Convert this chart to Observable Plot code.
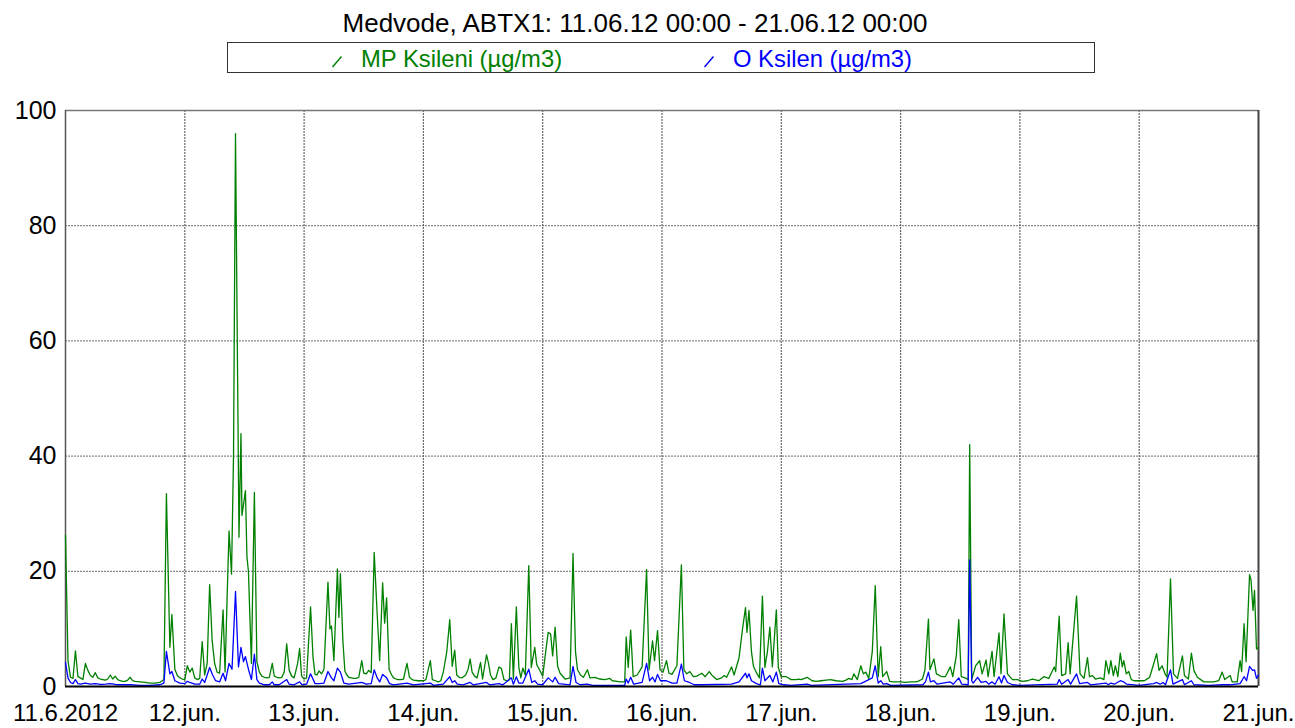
<!DOCTYPE html>
<html>
<head>
<meta charset="utf-8">
<script src="https://cdn.jsdelivr.net/npm/d3@7"></script>
<script src="https://cdn.jsdelivr.net/npm/@observablehq/plot@0.6"></script>
<style>
  html, body { margin: 0; padding: 0; background: #fff; }
  body { width: 1295px; height: 728px; position: relative; overflow: hidden; font-family: "Liberation Sans", Arial, sans-serif; }
  #title { position: absolute; left: 0; width: 1270px; top: 8px; text-align: center; font-size: 26px; color: #000; white-space: nowrap; }
  #legend { position: absolute; left: 227px; top: 42px; width: 866px; height: 29px; border: 1px solid #333; box-sizing: content-box; }
  .item { position: absolute; top: 2px; font-size: 23.8px; white-space: nowrap; line-height: 27px; }
  .item svg { position: absolute; left: -30px; top: 10px; }
  #chart { position: absolute; left: 0; top: 80px; }
</style>
</head>
<body>
<div id="title"></div>
<div id="legend"></div>
<div id="chart"></div>
<script>
const titleText = "Medvode, ABTX1: 11.06.12 00:00 - 21.06.12 00:00";
const seriesNames = ["MP Ksileni (µg/m3)", "O Ksilen (µg/m3)"];
const seriesColors = ["#008000", "#0000ff"];
const dayHours = [0, 24, 48, 72, 96, 120, 144, 168, 192, 216, 240];
const dayLabels = ["11.6.2012", "12.jun.", "13.jun.", "14.jun.", "15.jun.", "16.jun.", "17.jun.", "18.jun.", "19.jun.", "20.jun.", "21.jun."];
const yTicks = [0, 20, 40, 60, 80, 100];

// [hour since 11.06.12 00:00, value]
const mpKsileni = [
[0,26.2],[0.5,4.5],[1,1.6],[1.5,1.4],[2,6.2],[2.5,1.7],[3,1.5],[3.5,1.2],[4,4.0],[4.5,2.8],[5,1.9],[5.5,1.6],[6,2.4],[6.5,1.5],[7,1.3],[7.5,1.2],[8,1.1],[8.5,1.3],[9,2.0],[9.5,1.3],[10,1.8],[10.5,1.2],[11,1.0],[11.5,0.9],[12,0.9],[12.5,1.1],[13,1.6],[13.5,1.0],[14,0.9],[15,0.8],[16,0.7],[17,0.6],[18,0.6],[19,0.7],[19.8,1.2],
[20.3,33.5],[21,6.8],[21.4,12.5],[22,3],[22.5,1.9],[23,1.5],[23.5,1.3],[24,1.2],[24.5,3.6],[25,2.5],[25.5,3.2],[26,1.5],[26.5,1.2],[27,1.4],[27.5,7.8],[28,2.0],[28.5,4],[29,17.7],[29.5,8],[30,4],[30.5,2.5],[31,2.3],[31.7,13.3],[32.1,2.5],[32.5,15],[32.9,27],[33.4,19.5],[33.8,40],
[34.2,96],[34.9,25.9],[35.3,43.9],[35.5,29.7],[36.2,34],[36.5,22.5],[36.8,20],[37.4,4],[38,33.7],[38.5,4.3],[39,2.5],[39.5,1.8],[40,1.6],[40.5,1.5],[41,1.6],[41.6,4],[42,1.8],[42.5,1.6],[43,1.5],[43.5,1.6],[44,2.5],[44.5,7.4],[45,2.8],[45.5,1.8],[46,1.5],[46.7,4],[47.1,6.6],[47.5,1.8],[48,1.3],[48.5,1.5],
[49.3,13.8],[49.8,5],[50.2,2.1],[50.6,2.0],[51,2.7],[51.5,2.2],[52,3],[52.8,18.1],[53.2,10],[53.5,10.5],[54,4.5],[54.7,20.4],[55,12],[55.3,19.6],[55.8,8],[56.2,2.7],[56.6,2],[57,1.6],[57.5,1.5],[58,1.4],[58.5,1.4],[59,1.6],[59.6,4.5],[60,2.3],[60.5,2.2],[61,2.8],[61.5,2.4],
[62.1,23.3],[62.7,12.6],[63.2,4.5],[63.8,18],[64.2,11],[64.6,15.4],[65.1,3],[65.6,2],[66,1.5],[66.5,1.3],[67,1.2],[67.5,1.2],[68,1.3],[68.7,4],[69.2,1.6],[69.6,1.3],[70,1.1],[71,1.0],[72,1.0],[72.5,1.2],[73.4,4.5],[73.8,1.2],[74.4,1.0],[75,0.8],[75.5,1.0],[76,2.5],[76.7,6],
[77.3,11.6],[77.8,3.5],[78.3,6.3],[78.7,2],[79.2,1.6],[79.8,1.5],[80.5,2],[81,3],[81.4,4.8],[81.8,2.5],[82.3,1.8],[82.8,1.5],[83.5,4.2],[83.9,1.3],[84.7,5.5],[85.1,4],[85.5,2],[86,1.2],[86.6,1.5],[87.2,3.4],[87.7,3.1],[88.2,1.2],[88.8,1.0],[89.3,1.2],
[89.7,10.9],[90.1,1.3],[90.7,13.8],[91.2,3.3],[91.6,1.5],[92,3.2],[92.5,2],[93.2,21],[93.7,3.3],[94.4,6.8],[94.8,3.8],[95.3,3],[96,1.8],[96.6,6],[97.1,9.4],[97.6,9.1],[98,5.3],[98.5,10.3],[99,3.5],[99.5,2.3],[100.5,1.3],[101.5,1.5],
[102.1,23.1],[102.6,6],[103,2.9],[103.6,2],[104.2,1.6],[105,2.9],[105.5,1.5],[106.5,1.6],[107.5,1.3],[108.5,1.2],[109.5,1.4],[110,1.0],[111,0.9],[111.5,0.8],[112.5,0.8],
[112.8,8.6],[113.2,3.3],[113.7,9.8],[114.2,1.7],[115,2],[116,3.4],[116.9,20.3],[117.4,2.9],[118.1,7.9],[118.5,4.5],[119.1,9.7],[119.6,2.9],[120.2,2.5],[120.9,4.5],[121.4,2.3],[122,2.1],[123,3.6],
[123.9,21.1],[124.4,2.9],[125,2.2],[125.6,2.6],[126.3,1.7],[127,1.8],[128,2.3],[128.7,1.7],[129.5,2.6],[130,2],[131,1.2],[132,1.5],[132.5,1.9],[133,1.6],[134,3.4],[134.5,2],[135.5,5],[136.2,10],
[136.8,13.7],[137.1,9.4],[137.5,13.2],[138,6],[138.4,3.5],[139,2.4],[139.6,1.5],[140.2,15.7],[140.7,3.3],[141.2,6],[141.7,10.3],[142.2,3.4],[143,13.3],[143.4,3.3],[144,1.7],[145,1.7],[146,1.2],[147,1.2],[147.5,1.3],[148,1.2],
[149.2,1.6],[150.2,1.0],[151,0.9],[152,1.0],[153,1.1],[153.9,1.2],[155,1.0],[156.3,0.9],[157,1.1],[157.6,1.4],[158.2,1.2],[158.6,2.2],[159.3,1.2],[160,3.6],[160.5,2.2],[161,2.5],[161.6,1.4],[162.3,6],
[162.9,17.5],[163.5,1.7],[164,6.9],[164.4,1.7],[165.2,2.6],[165.8,0.9],[166.5,0.8],[167,0.8],[168,0.8],[169,0.7],[170,0.8],[171,0.8],[171.5,0.9],[172.4,1.3],[172.9,2.9],
[173.6,11.7],[173.9,2.9],[174.7,4.8],[175.2,2.2],[176.3,1.7],[177,1.7],[178,3.4],[178.5,1.7],[179.2,5.3],[179.7,11.6],[180.2,1.7],[181.2,1.4],[181.6,1.2],
[181.9,42],[182.3,1.2],[183.1,3.6],[183.9,4.5],[184.4,2.2],[185.2,4.6],[185.6,1.7],[186.4,6.1],[186.8,1.7],[187.8,9.3],[188.2,2.2],[188.8,12.6],[189.5,2.2],[190.5,1.2],[191.5,1.2],[192.5,0.9],[193.5,1.0],[194.5,1.3],[195.8,1.0],[196.8,1.7],[197.8,1.4],
[198.9,3.4],[199.2,2.6],[199.9,12.2],[200.4,1.9],[201.2,2.2],[201.7,7.6],[202.1,2.2],[203.4,15.7],[204.1,2.2],[204.9,1.4],[205.6,5],[206,1.7],[206.6,1.9],[207.2,1.3],[208.2,1.5],[208.9,1.2],
[209.3,4.5],[209.9,2.2],[210.3,4.5],[210.8,1.9],[211.2,3.6],[211.7,1.7],[212.2,5.8],[212.6,3.4],[212.9,4.5],[213.4,2.2],[213.9,2.6],[214.4,1.2],[215,1.0],[216,1.0],[217,1.0],[217.4,1.2],[218.1,1.6],
[218.9,3.9],[219.5,5.7],[220,2.8],[220.6,3.6],[221.2,2.2],[221.6,1.6],[222.3,18.7],[222.9,2.2],[223.7,1.4],[224.7,5.3],[225.1,1.9],[225.9,1.3],[226.5,5.8],[227,2.8],[227.7,1.6],[229,0.8],[231,0.8],[232,1.0],
[232.7,2.5],[233.2,1.2],[234.3,1.9],[234.7,0.8],[235.7,0.8],[236.3,4.5],[236.6,2.6],[237.1,10.9],[237.5,4.3],[238.2,19.4],[238.5,18.5],[238.9,13.2],[239.2,16.7],[239.6,6.5],[240,6.8]
];

const oKsilen = [
[0,4.2],[0.5,1.5],[1,0.7],[1.5,0.5],[2,1.2],[2.5,0.5],[3,0.4],[4,0.6],[5,0.4],[6,0.5],[7,0.35],[8,0.4],[9,0.5],[10,0.35],[11,0.3],[13,0.3],[15,0.2],[17,0.2],[19,0.3],[19.8,0.6],
[20.3,6.1],[21,2.2],[21.4,2.6],[22,1],[23,0.6],[24,0.5],[24.5,0.9],[25,0.7],[26,0.4],[27,0.4],[27.5,1.3],[28,0.7],[29,3.3],[29.6,2],[30.2,1],[31,0.8],[31.7,2.3],[32.2,1],[32.9,4],[33.5,3],
[34.2,16.5],[34.8,3.4],[35.3,6.8],[35.8,4.3],[36.2,5.2],[36.8,3],[37.4,1.2],[38,5.6],[38.5,1.2],[39,0.6],[40,0.3],[41,0.3],[41.6,0.8],[42,0.3],[43,0.3],[44.5,1.2],[45,0.4],[46,0.3],[47.1,0.8],[47.6,0.3],[48.5,0.4],
[49.3,2.2],[50.2,0.5],[51,0.5],[52,0.6],[52.8,2.6],[53.5,1.5],[54,1],[54.7,3.2],[55.3,2.5],[56,0.6],[57,0.4],[59.6,0.7],[60.5,0.4],[61.5,0.5],[62.1,2.9],[62.7,1.5],[63.2,0.8],[63.8,2.1],[64.6,1.5],[65.2,0.5],[66,0.3],[68.7,0.6],[70,0.3],[73.4,0.6],[74,0.2],[76,0.4],
[77.3,1.7],[77.8,0.7],[78.3,1.0],[78.8,0.4],[80,0.3],[81.4,0.7],[82,0.3],[84.7,0.7],[85.3,0.3],[87.2,0.5],[88,0.3],[89.7,1.5],[90.1,0.4],[90.7,1.7],[91.2,0.6],[92,0.6],[93.2,3],[93.8,0.7],[94.4,1],[95,0.4],[96,0.3],[97.1,1.5],[98,0.8],[98.5,1.6],[99.2,0.5],[101.5,0.3],
[102.1,3.5],[102.7,0.7],[103.5,0.3],[105,0.4],[106,0.2],[112.5,0.2],[112.8,1.3],[113.2,0.6],[113.7,1.6],[114.3,0.4],[116,0.7],[116.9,4],[117.5,1],[118.1,1.6],[118.6,0.8],[119.1,2.1],[119.7,1],[120.9,1],[122,0.6],[123,0.6],
[123.9,3.9],[124.5,1],[125.5,0.7],[126.5,0.3],[128,0.3],[134,0.4],[135.5,0.8],[136.8,2.3],[137.1,1.5],[137.5,2.2],[138,1],[139,0.5],[139.8,0.3],[140.2,3.2],[140.7,1],[141.7,1.9],[142.3,0.8],[143,2.5],[143.5,0.5],[144.5,0.3],[146,0.2],[149.2,0.4],[150,0.2],[160,0.5],
[162.3,1.5],[162.9,3.6],[163.5,0.6],[164,1],[164.5,0.4],[165.2,0.5],[166,0.2],[172.5,0.3],[173,0.8],[173.6,2.5],[174,0.8],[174.7,1],[175.3,0.4],[178,0.8],[178.6,0.4],[179.7,1.5],[180.3,0.4],[181.6,0.3],
[181.9,22],[182.3,1],[182.6,0.6],[183.5,1.6],[184.2,0.7],[185.2,0.9],[185.7,0.4],[186.4,0.8],[187,0.4],[187.8,1.7],[188.3,0.6],[188.8,1.9],[189.5,0.7],[190.5,0.3],[192,0.2],[199.5,0.4],[199.9,1.2],[200.4,0.4],[201.7,1.2],[202.2,0.4],[203.4,2.2],[204,0.5],[205.6,0.7],[206.2,0.3],
[209.3,0.6],[209.8,0.3],[210.3,0.6],[211,0.4],[212.2,1],[212.9,0.8],[213.5,0.4],[216,0.2],[218.9,0.5],[219.5,0.7],[220.2,0.4],[220.8,0.7],[221.3,0.3],[222.3,2.9],[222.8,0.4],[224.7,1.2],[225.1,0.3],[226.5,1],[227,0.3],[230,0.2],[232.7,0.3],[234.3,0.3],
[236.3,0.5],[237.1,1.7],[237.6,1],[238.2,3.5],[238.8,2.8],[239.2,2.9],[239.6,1.4],[240,2]
];

// title + legend
document.getElementById("title").textContent = titleText;
const legend = document.getElementById("legend");
const legendX = [133, 505]; // text left offsets inside the box
seriesNames.forEach((name, i) => {
  const el = document.createElement("div");
  el.className = "item";
  el.style.left = legendX[i] + "px";
  el.style.color = seriesColors[i];
  el.innerHTML = `<svg width="13" height="13"><line x1="1.5" y1="12" x2="10.5" y2="1.5" stroke="${seriesColors[i]}" stroke-width="1.4"/></svg>`;
  el.appendChild(document.createTextNode(name));
  legend.appendChild(el);
});

const toRows = (arr) => arr.map(([h, v]) => ({h, v}));

const chart = Plot.plot({
  width: 1295,
  height: 648,
  marginTop: 30,
  marginBottom: 42,
  marginLeft: 65,
  marginRight: 37,
  x: {domain: [0, 240]},
  y: {domain: [0, 100]},
  style: {fontFamily: "'Liberation Sans', Arial, sans-serif", background: "white", color: "#000"},
  marks: [
    Plot.gridY(yTicks.slice(1, -1), {stroke: "#8a8a8a", strokeOpacity: 1, strokeDasharray: "2,1", strokeWidth: 1.2}),
    Plot.gridX(dayHours.slice(1, -1), {stroke: "#6a6a6a", strokeOpacity: 1, strokeDasharray: "2,1", strokeWidth: 1.2}),
    Plot.ruleY([100], {stroke: "#777", strokeWidth: 1.5}),
    Plot.ruleX([0], {stroke: "#555", strokeWidth: 1.5}),
    Plot.ruleX([240], {stroke: "#444", strokeWidth: 2}),
    Plot.lineY(toRows(mpKsileni), {x: "h", y: "v", stroke: seriesColors[0], strokeWidth: 1.3}),
    Plot.lineY(toRows(oKsilen), {x: "h", y: "v", stroke: seriesColors[1], strokeWidth: 1.3}),
    Plot.ruleY([0], {stroke: "#000", strokeWidth: 2}),
    Plot.axisY({ticks: yTicks, tickSize: 0, tickPadding: 9, fontSize: 25, label: null}),
    Plot.axisX({ticks: dayHours, tickFormat: (d) => dayLabels[dayHours.indexOf(d)], tickSize: 0, tickPadding: 17, fontSize: 24, label: null})
  ]
});
document.getElementById("chart").appendChild(chart);
</script>
</body>
</html>
